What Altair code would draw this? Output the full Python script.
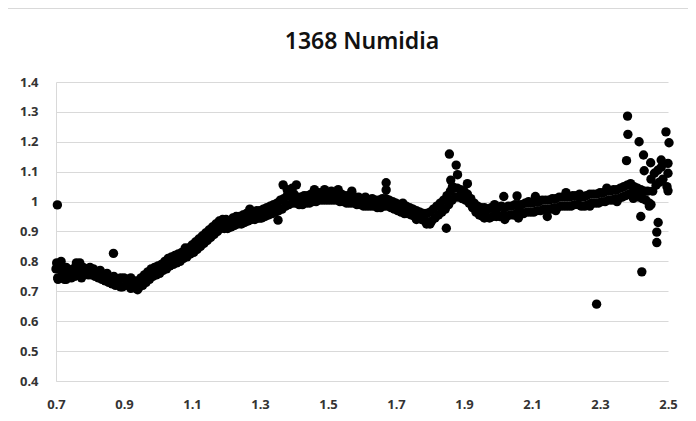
import altair as alt
import pandas as pd

title_text = "1368 Numidia"
x_ticks = [0.7, 0.9, 1.1, 1.3, 1.5, 1.7, 1.9, 2.1, 2.3, 2.5]
y_ticks = [0.4, 0.5, 0.6, 0.7, 0.8, 0.9, 1.0, 1.1, 1.2, 1.3, 1.4]

xa = [0.70, 0.71, 0.72, 0.73, 0.74, 0.75, 0.76, 0.77, 0.78, 0.79,
      0.80, 0.81, 0.82, 0.83, 0.84, 0.85, 0.86, 0.87, 0.88, 0.89,
      0.90, 0.91, 0.92, 0.93, 0.94, 0.95, 0.96, 0.97, 0.98, 0.99,
      1.00, 1.01, 1.02, 1.03, 1.04, 1.05, 1.06, 1.07, 1.08, 1.09,
      1.10, 1.11, 1.12, 1.13, 1.14, 1.15, 1.16, 1.17, 1.18, 1.19,
      1.20, 1.21, 1.22, 1.23, 1.24, 1.25, 1.26, 1.27, 1.28, 1.29,
      1.30, 1.31, 1.32, 1.33, 1.34, 1.35, 1.36, 1.37, 1.38, 1.39,
      1.40, 1.41, 1.42, 1.43, 1.44, 1.45, 1.46, 1.47, 1.48, 1.49,
      1.50, 1.51, 1.52, 1.53, 1.54, 1.55, 1.56, 1.57, 1.58, 1.59,
      1.60, 1.61, 1.62, 1.63, 1.64, 1.65, 1.66, 1.67, 1.68, 1.69,
      1.70, 1.71, 1.72, 1.73, 1.74, 1.75, 1.76, 1.77, 1.78, 1.79,
      1.80, 1.81, 1.82, 1.83, 1.84, 1.85, 1.86, 1.87, 1.88, 1.89,
      1.90, 1.91, 1.92, 1.93, 1.94, 1.95, 1.96, 1.97, 1.98, 1.99,
      2.00, 2.01, 2.02, 2.03, 2.04, 2.05, 2.06, 2.07, 2.08, 2.09,
      2.10, 2.11, 2.12, 2.13, 2.14, 2.15, 2.16, 2.17, 2.18, 2.19,
      2.20, 2.21, 2.22, 2.23, 2.24, 2.25, 2.26, 2.27, 2.28, 2.29,
      2.30, 2.31, 2.32, 2.33, 2.34, 2.35, 2.36, 2.37, 2.38, 2.39,
      2.40, 2.41, 2.42, 2.43, 2.44, 2.45, 2.46, 2.47, 2.48]
ya = [0.775, 0.785, 0.77, 0.78, 0.77, 0.775, 0.785, 0.795, 0.78, 0.775,
      0.78, 0.775, 0.765, 0.77, 0.755, 0.76, 0.745, 0.75, 0.735, 0.745,
      0.745, 0.74, 0.745, 0.735, 0.735, 0.745, 0.755, 0.765, 0.775, 0.78,
      0.785, 0.79, 0.8, 0.81, 0.815, 0.82, 0.825, 0.83, 0.845, 0.845,
      0.855, 0.865, 0.875, 0.885, 0.895, 0.905, 0.915, 0.925, 0.935, 0.93,
      0.94, 0.935, 0.945, 0.95, 0.95, 0.955, 0.96, 0.965, 0.965, 0.97,
      0.97, 0.975, 0.98, 0.985, 0.99, 0.995, 1.005, 1.01, 1.02, 1.02,
      1.025, 1.015, 1.015, 1.02, 1.02, 1.025, 1.025, 1.03, 1.03, 1.035,
      1.025, 1.035, 1.03, 1.025, 1.025, 1.02, 1.02, 1.025, 1.015, 1.015,
      1.01, 1.015, 1.005, 1.01, 1.005, 1.005, 1.01, 1.01, 1.005, 1.0,
      0.995, 0.99, 0.985, 0.985, 0.98, 0.975, 0.97, 0.965, 0.96, 0.96,
      0.965, 0.975, 0.985, 0.995, 1.005, 1.02, 1.035, 1.045, 1.045, 1.04,
      1.035, 1.025, 1.01, 0.995, 0.985, 0.98, 0.98, 0.975, 0.98, 0.98,
      0.98, 0.985, 0.98, 0.985, 0.985, 0.99, 0.99, 0.99, 0.995, 0.995,
      0.995, 1.0, 1.0, 1.005, 1.005, 1.005, 1.01, 1.01, 1.015, 1.015,
      1.015, 1.015, 1.02, 1.02, 1.015, 1.015, 1.02, 1.025, 1.025, 1.025,
      1.03, 1.03, 1.035, 1.035, 1.04, 1.04, 1.045, 1.05, 1.055, 1.06,
      1.05, 1.045, 1.04, 1.035, 1.035, 1.075, 1.095, 1.105, 1.115]

xb = [0.705, 0.715, 0.725, 0.735, 0.745, 0.755, 0.765, 0.775, 0.785, 0.795,
      0.805, 0.815, 0.825, 0.835, 0.845, 0.855, 0.865, 0.875, 0.885, 0.895,
      0.905, 0.915, 0.925, 0.935, 0.945, 0.955, 0.965, 0.975, 0.985, 0.995,
      1.005, 1.015, 1.025, 1.035, 1.045, 1.055, 1.065, 1.075, 1.085, 1.095,
      1.105, 1.115, 1.125, 1.135, 1.145, 1.155, 1.165, 1.175, 1.185, 1.195,
      1.205, 1.215, 1.225, 1.235, 1.245, 1.255, 1.265, 1.275, 1.285, 1.295,
      1.305, 1.315, 1.325, 1.335, 1.345, 1.355, 1.365, 1.375, 1.385, 1.395,
      1.405, 1.415, 1.425, 1.435, 1.445, 1.455, 1.465, 1.475, 1.485, 1.495,
      1.505, 1.515, 1.525, 1.535, 1.545, 1.555, 1.565, 1.575, 1.585, 1.595,
      1.605, 1.615, 1.625, 1.635, 1.645, 1.655, 1.665, 1.675, 1.685, 1.695,
      1.705, 1.715, 1.725, 1.735, 1.745, 1.755, 1.765, 1.775, 1.785, 1.795,
      1.805, 1.815, 1.825, 1.835, 1.845, 1.855, 1.865, 1.875, 1.885, 1.895,
      1.905, 1.915, 1.925, 1.935, 1.945, 1.955, 1.965, 1.975, 1.985, 1.995,
      2.005, 2.015, 2.025, 2.035, 2.045, 2.055, 2.065, 2.075, 2.085, 2.095,
      2.105, 2.115, 2.125, 2.135, 2.145, 2.155, 2.165, 2.175, 2.185, 2.195,
      2.205, 2.215, 2.225, 2.235, 2.245, 2.255, 2.265, 2.275, 2.285, 2.295,
      2.305, 2.315, 2.325, 2.335, 2.345, 2.355, 2.365, 2.375, 2.385, 2.395,
      2.405, 2.415, 2.425, 2.435, 2.445, 2.455, 2.465, 2.475, 2.485]
yb = [0.745, 0.75, 0.74, 0.755, 0.745, 0.75, 0.76, 0.765, 0.76, 0.755,
      0.755, 0.75, 0.745, 0.74, 0.735, 0.73, 0.725, 0.72, 0.72, 0.715,
      0.72, 0.72, 0.715, 0.71, 0.715, 0.72, 0.73, 0.74, 0.75, 0.755,
      0.76, 0.77, 0.775, 0.785, 0.79, 0.795, 0.80, 0.81, 0.815, 0.825,
      0.83, 0.84, 0.85, 0.86, 0.87, 0.88, 0.89, 0.9, 0.91, 0.91,
      0.91, 0.915, 0.92, 0.925, 0.925, 0.93, 0.935, 0.94, 0.94, 0.945,
      0.945, 0.95, 0.955, 0.96, 0.965, 0.97, 0.975, 0.985, 0.99, 0.995,
      0.995, 0.99, 0.99, 0.995, 0.995, 1.0, 1.0, 1.005, 1.005, 1.005,
      1.005, 1.005, 1.005, 1.0, 1.0, 0.995, 0.995, 0.995, 0.99, 0.99,
      0.985, 0.985, 0.985, 0.985, 0.98, 0.98, 0.985, 0.985, 0.98, 0.975,
      0.97, 0.965, 0.96, 0.96, 0.955, 0.95, 0.945, 0.94, 0.935, 0.93,
      0.935, 0.945, 0.955, 0.965, 0.975, 0.99, 1.005, 1.015, 1.015, 1.01,
      1.005, 0.995, 0.98, 0.965, 0.955, 0.95, 0.95, 0.945, 0.95, 0.95,
      0.95, 0.955, 0.95, 0.955, 0.955, 0.96, 0.96, 0.96, 0.965, 0.965,
      0.965, 0.97, 0.97, 0.975, 0.975, 0.975, 0.98, 0.98, 0.985, 0.985,
      0.985, 0.985, 0.99, 0.99, 0.985, 0.985, 0.99, 0.995, 0.995, 0.995,
      1.0, 1.0, 1.005, 1.005, 1.01, 1.01, 1.015, 1.02, 1.025, 1.03,
      1.02, 1.015, 1.01, 1.005, 0.995, 1.035, 1.055, 1.065, 1.075]

# extra scattered points that make the band ragged
xj = [0.715, 0.73, 0.76, 0.775, 0.89, 0.92, 0.94, 1.19, 1.27, 1.30,
      1.46, 1.49, 1.53, 1.57, 1.72, 1.76, 1.79, 1.80, 1.96, 1.99,
      2.06, 2.09, 2.17, 2.24, 2.27, 2.32, 2.35]
yj = [0.80, 0.74, 0.795, 0.745, 0.715, 0.71, 0.705, 0.94, 0.975, 0.945,
      1.04, 1.04, 1.04, 1.035, 0.995, 0.94, 0.925, 0.925, 0.945, 0.99,
      0.945, 1.0, 0.97, 1.025, 0.985, 1.045, 1.0]

xo = [0.704, 0.702, 0.706, 0.712, 0.869, 1.353, 1.368, 1.38, 1.395, 1.407,
      1.671, 1.671, 1.848, 1.857, 1.877, 1.881, 1.861, 1.866, 1.91, 1.95,
      2.017, 2.056, 2.02, 2.11, 2.145, 2.2, 2.29, 2.378, 2.381, 2.382,
      2.398, 2.415, 2.42, 2.423, 2.428, 2.43, 2.445, 2.449, 2.45, 2.467,
      2.467, 2.471, 2.48, 2.494, 2.50, 2.50, 2.497, 2.503, 2.50]
yo = [0.989, 0.795, 0.74, 0.79, 0.827, 0.938, 1.056, 1.04, 1.045, 1.056,
      1.063, 1.039, 0.911, 1.159, 1.122, 1.09, 1.072, 1.05, 1.06, 0.955,
      1.017, 1.019, 0.94, 1.017, 0.95, 1.03, 0.657, 1.137, 1.286, 1.225,
      1.011, 1.20, 0.95, 0.765, 1.156, 1.103, 0.985, 1.13, 0.99, 0.898,
      0.863, 0.93, 1.139, 1.233, 1.128, 1.095, 1.05, 1.197, 1.036]

df = pd.DataFrame({"x": xa + xb + xj + xo, "y": ya + yb + yj + yo})
title_df = pd.DataFrame({"t": [title_text]})

FONT = "Noto Sans"
GRID = "#d9d9d9"

points = alt.Chart(df).mark_circle(size=88, color="black", opacity=1).encode(
    x=alt.X("x:Q", scale=alt.Scale(domain=[0.7, 2.5], nice=False, zero=False),
            axis=alt.Axis(values=x_ticks, format=".1f", grid=False, ticks=False,
                          domainColor=GRID, labelFont=FONT, labelFontWeight="bold",
                          labelFontSize=13, labelColor="#333333", labelPadding=17,
                          labelFlush=False, title=None)),
    y=alt.Y("y:Q", scale=alt.Scale(domain=[0.4, 1.4], nice=False, zero=False),
            axis=alt.Axis(values=y_ticks, format=".2~f", grid=True, gridColor=GRID,
                          ticks=False, domainColor=GRID, labelFont=FONT,
                          labelFontWeight="bold", labelFontSize=13,
                          labelColor="#333333", labelPadding=18, title=None)),
)

left_border = alt.Chart(df).mark_rule(color=GRID, strokeWidth=1).encode(
    x=alt.value(-50.5), y=alt.value(-73.5), y2=alt.value(340)
)
top_border = alt.Chart(df).mark_rule(color=GRID, strokeWidth=1).encode(
    x=alt.value(-50.5), x2=alt.value(640), y=alt.value(-73.5)
)

title_mark = alt.Chart(title_df).mark_text(
    font=FONT, fontSize=23, fontWeight=600, color="#111111",
    align="center", baseline="middle"
).encode(
    text="t:N", x=alt.value(306), y=alt.value(-40)
)

chart = alt.layer(left_border, top_border, points, title_mark).properties(
    width=612,
    height=299,
    padding={"left": 48, "top": 74, "right": 20, "bottom": 32},
    autosize=alt.AutoSizeParams(type="none"),
).configure_view(stroke=None)

chart.save("out.html", embed_options={"renderer": "svg", "actions": False})
